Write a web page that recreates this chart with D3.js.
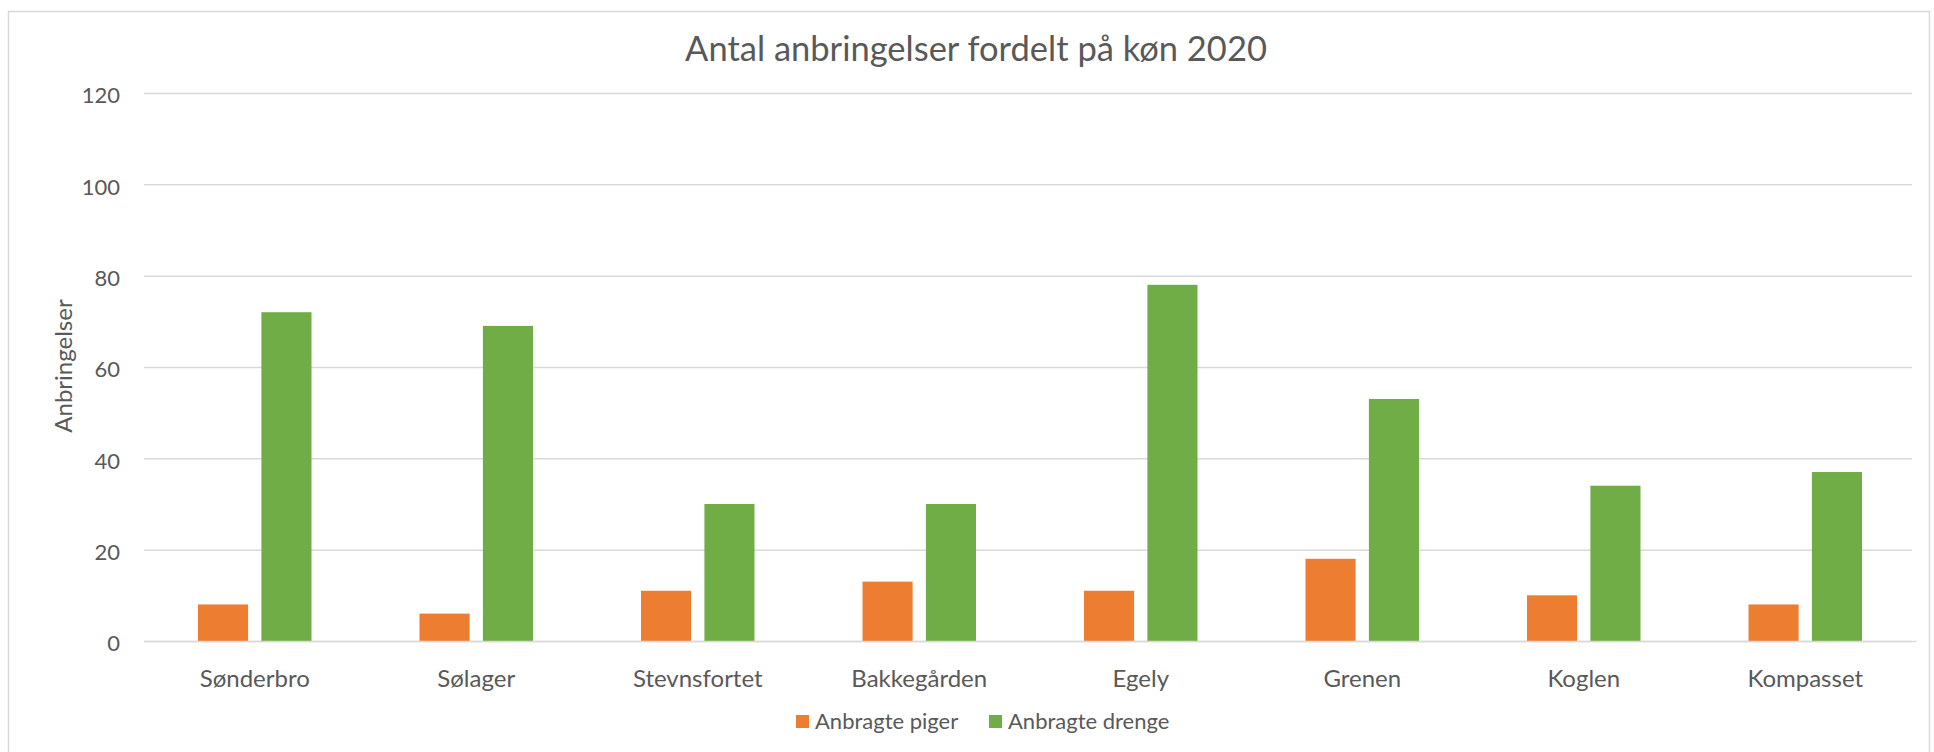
<!DOCTYPE html>
<html>
<head>
<meta charset="utf-8">
<script src="https://cdn.jsdelivr.net/npm/d3@7"></script>
<style>
  body { margin: 0; background: #fff; }
  text { font-family: Lato, "Open Sans", sans-serif; fill: #595959; }
</style>
</head>
<body>
<div id="chart"></div>
<script>
var categories = ["Sønderbro", "Sølager", "Stevnsfortet", "Bakkegården", "Egely", "Grenen", "Koglen", "Kompasset"]
var seriesNames = ["Anbragte piger", "Anbragte drenge"]
var piger = [8, 6, 11, 13, 11, 18, 10, 8]
var drenge = [72, 69, 30, 30, 78, 53, 34, 37]
var yTicks = [0, 20, 40, 60, 80, 100, 120]
var colors = ["#ED7D31", "#70AD47"]

var width = 1934, height = 752
var margin = { left: 144, right: 18, top: 93, bottom: 111 }

var rows = categories.map(function (c, i) {
  return { name: c, values: [piger[i], drenge[i]] }
})

var svg = d3.select("#chart").append("svg")
  .attr("width", width)
  .attr("height", height)

// chart frame (bottom edge runs off the picture)
svg.append("rect")
  .attr("x", 8.5).attr("y", 11.5)
  .attr("width", 1921).attr("height", 800)
  .attr("fill", "#fff")
  .attr("stroke", "#D9D9D9")
  .attr("stroke-width", 1.5)

var x0 = d3.scaleBand()
  .domain(categories)
  .range([margin.left, width - margin.right])
  .padding(0)

var pairW = 113.5
var x1 = d3.scaleBand()
  .domain(d3.range(seriesNames.length))
  .range([(x0.bandwidth() - pairW) / 2, (x0.bandwidth() + pairW) / 2])
  .paddingInner(0.21)

var y = d3.scaleLinear()
  .domain([0, 120])
  .range([height - margin.bottom, margin.top])

// gridlines + tick labels
var yAxis = d3.axisLeft(y)
  .tickValues(yTicks)
  .tickSize(-(width - margin.left - margin.right - 4))
  .tickPadding(24)

var gy = svg.append("g")
  .attr("transform", "translate(" + margin.left + ",0)")
  .call(yAxis)
gy.select(".domain").remove()
gy.selectAll(".tick line").attr("stroke", "#D9D9D9").attr("stroke-width", 1.5)
gy.selectAll(".tick text")
  .attr("font-size", 22)
  .attr("dy", "0.45em")
  .style("font-family", "Lato, sans-serif")
  .attr("fill", "#595959")

// bars
var group = svg.append("g")
  .selectAll("g")
  .data(rows)
  .join("g")
  .attr("transform", d => "translate(" + x0(d.name) + ",0)")

group.selectAll("rect")
  .data(d => d.values.map((v, i) => ({ i: i, v: v })))
  .join("rect")
  .attr("x", d => x1(d.i))
  .attr("y", d => y(d.v))
  .attr("width", x1.bandwidth())
  .attr("height", d => y(0) - y(d.v))
  .attr("fill", d => colors[d.i])

// x axis labels
var xAxis = d3.axisBottom(x0).tickSize(0).tickPadding(29)
var gx = svg.append("g")
  .attr("transform", "translate(0," + y(0) + ")")
  .call(xAxis)
gx.select(".domain").attr("stroke", "#D9D9D9").attr("stroke-width", 1.5)
gx.selectAll(".tick text")
  .attr("font-size", 24)
  .style("font-family", "Lato, sans-serif")
  .attr("fill", "#595959")

// title
svg.append("text")
  .attr("x", 976)
  .attr("y", 61)
  .attr("text-anchor", "middle")
  .attr("font-size", 34.5)
  .text("Antal anbringelser fordelt på køn 2020")

// y axis title
svg.append("text")
  .attr("transform", "translate(72,366) rotate(-90)")
  .attr("text-anchor", "middle")
  .attr("font-size", 24)
  .text("Anbringelser")

// legend
var legendX = [796, 989]
var legend = svg.append("g")
  .selectAll("g")
  .data(seriesNames)
  .join("g")
  .attr("transform", (d, i) => "translate(" + legendX[i] + ",715)")

legend.append("rect")
  .attr("width", 13).attr("height", 13)
  .attr("fill", (d, i) => colors[i])

legend.append("text")
  .attr("x", 19)
  .attr("y", 14)
  .attr("font-size", 22)
  .text(d => d)
</script>
</body>
</html>
